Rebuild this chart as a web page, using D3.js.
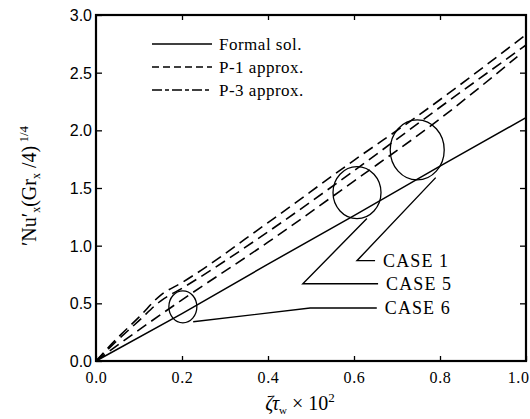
<!DOCTYPE html>
<html>
<head>
<meta charset="utf-8">
<script src="https://cdn.jsdelivr.net/npm/d3@7"></script>
<style>
  html, body { margin: 0; padding: 0; background: #fff; }
  svg { display: block; }
  .serif { font-family: "Liberation Serif", "DejaVu Serif", serif; }
  .sans { font-family: "Liberation Sans", Arial, sans-serif; }
</style>
</head>
<body>
<svg id="chart" width="530" height="419"></svg>
<script>
// Axis ticks
const xTicks = [0.0, 0.2, 0.4, 0.6, 0.8, 1.0];
const yTicks = [0.0, 0.5, 1.0, 1.5, 2.0, 2.5, 3.0];

// Formal solution (solid line)
const formalX = [0.0, 0.2, 0.4, 0.6, 0.8, 1.0];
const formalY = [0.0, 0.41, 0.84, 1.26, 1.69, 2.11];

// Approximate solutions (dashed lines)
const upperX = [0.0, 0.05, 0.1, 0.15, 0.2, 0.4, 0.6, 0.75, 1.0];
const upperY = [0.0, 0.2, 0.38, 0.57, 0.68, 1.2, 1.74, 2.13, 2.83];
const middleX = [0.0, 0.05, 0.1, 0.15, 0.2, 0.4, 0.6, 0.8, 1.0];
const middleY = [0.0, 0.18, 0.35, 0.52, 0.63, 1.12, 1.65, 2.2, 2.74];
const lowerX = [0.0, 0.1, 0.2, 0.4, 0.6, 0.8, 0.98];
const lowerY = [0.0, 0.27, 0.53, 1.03, 1.56, 2.1, 2.64];

// Grouping ellipses (centres in data units)
const ringX = [0.202, 0.607, 0.747];
const ringY = [0.47, 1.46, 1.83];

// Case labels and their leader lines
const caseNames = ["CASE 1", "CASE 5", "CASE 6"];
const leaderX = [[0.79, 0.607, 0.649], [0.63, 0.481, 0.656], [0.226, 0.498, 0.653]];
const leaderY = [[1.59, 0.87, 0.87], [1.235, 0.67, 0.67], [0.34, 0.46, 0.46]];

// Legend entries
const legendNames = ["Formal sol.", "P-1 approx.", "P-3 approx."];
const legendDash = [null, "7,4", "10,3,4,3"];

const svg = d3.select("#chart");
const plotLeft = 96, plotRight = 526, plotTop = 15, plotBottom = 361;

const x = d3.scaleLinear().domain([0, 1]).range([plotLeft, plotRight]);
const y = d3.scaleLinear().domain([0, 3]).range([plotBottom, plotTop]);

// Frame
svg.append("rect")
  .attr("x", plotLeft).attr("y", plotTop)
  .attr("width", plotRight - plotLeft).attr("height", plotBottom - plotTop)
  .attr("fill", "none").attr("stroke", "#000").attr("stroke-width", 2.2);

// Axes with inward ticks
const fmt = d3.format(".1f");
const gx = svg.append("g").attr("transform", `translate(0,${plotBottom})`)
  .call(d3.axisBottom(x).tickValues(xTicks).tickFormat(fmt).tickSizeInner(-5).tickSizeOuter(0).tickPadding(11));
const gy = svg.append("g").attr("transform", `translate(${plotLeft},0)`)
  .call(d3.axisLeft(y).tickValues(yTicks).tickFormat(fmt).tickSizeInner(-6).tickSizeOuter(0).tickPadding(4));
const gt = svg.append("g").attr("transform", `translate(0,${plotTop})`)
  .call(d3.axisTop(x).tickValues(xTicks.slice(1, -1)).tickFormat("").tickSizeInner(-5).tickSizeOuter(0));
const gr = svg.append("g").attr("transform", `translate(${plotRight},0)`)
  .call(d3.axisRight(y).tickValues(yTicks.slice(1, -1)).tickFormat("").tickSizeInner(-6).tickSizeOuter(0));

[gx, gy, gt, gr].forEach(g => {
  g.select(".domain").remove();
  g.selectAll(".tick line").attr("stroke", "#000").attr("stroke-width", 1.3);
});
gx.selectAll(".tick text").attr("class", "serif").attr("font-size", 16).attr("fill", "#000")
  .attr("letter-spacing", 0.6);
// keep the last label inside the page edge
gx.selectAll(".tick text").filter(d => d === 1.0)
  .attr("text-anchor", "end").attr("x", 529 - x(1.0));
gy.selectAll(".tick text").attr("class", "sans").attr("font-size", 16).attr("fill", "#000")
  .attr("dy", "0.35em");

// Curves
const line = d3.line().x(d => x(d[0])).y(d => y(d[1]));
const zip = (a, b) => a.map((v, i) => [v, b[i]]);

svg.append("path").datum(zip(formalX, formalY)).attr("d", line)
  .attr("fill", "none").attr("stroke", "#000").attr("stroke-width", 1.5);

const curved = d3.line().x(d => x(d[0])).y(d => y(d[1])).curve(d3.curveMonotoneX);
[[upperX, upperY], [middleX, middleY], [lowerX, lowerY]].forEach(([xs, ys]) => {
  svg.append("path").datum(zip(xs, ys)).attr("d", curved)
    .attr("fill", "none").attr("stroke", "#000").attr("stroke-width", 1.6)
    .attr("stroke-dasharray", "11,6");
});

// Ellipses
const ringRx = [14, 24, 27], ringRy = [16, 26, 30];
svg.selectAll("ellipse.ring").data(ringX).join("ellipse")
  .attr("class", "ring")
  .attr("cx", d => x(d)).attr("cy", (d, i) => y(ringY[i]))
  .attr("rx", (d, i) => ringRx[i]).attr("ry", (d, i) => ringRy[i])
  .attr("fill", "none").attr("stroke", "#000").attr("stroke-width", 1.3);

// Leaders and case labels
caseNames.forEach((name, i) => {
  svg.append("path").datum(zip(leaderX[i], leaderY[i])).attr("d", line)
    .attr("fill", "none").attr("stroke", "#000").attr("stroke-width", 1.4);
  svg.append("text").attr("class", "serif")
    .attr("x", x(leaderX[i][2]) + 8).attr("y", y(leaderY[i][2]))
    .attr("dy", "0.35em").attr("font-size", 18).attr("letter-spacing", 1.1)
    .text(name);
});

// Legend
const legendRowY = [44, 67, 90];
legendNames.forEach((name, i) => {
  svg.append("line")
    .attr("x1", 152).attr("x2", 212).attr("y1", legendRowY[i]).attr("y2", legendRowY[i])
    .attr("stroke", "#000").attr("stroke-width", 1.5)
    .attr("stroke-dasharray", legendDash[i]);
  svg.append("text").attr("class", "serif")
    .attr("x", 219).attr("y", legendRowY[i]).attr("dy", "0.35em")
    .attr("font-size", 17).attr("letter-spacing", 0.5).text(name);
});

// Axis titles
const yTitle = svg.append("text").attr("class", "serif")
  .attr("transform", "translate(36,186) rotate(-90)")
  .attr("text-anchor", "middle").attr("font-size", 20);
yTitle.append("tspan").text("′Nu′");
yTitle.append("tspan").attr("font-size", 12).attr("dy", 4).text("x");
yTitle.append("tspan").attr("dy", -4).text("(Gr");
yTitle.append("tspan").attr("font-size", 12).attr("dy", 4).text("x");
yTitle.append("tspan").attr("dy", -4).text(" /4)");
yTitle.append("tspan").attr("font-size", 13).attr("dy", -8).text(" 1/4");

const xTitle = svg.append("text").attr("class", "serif")
  .attr("x", 300).attr("y", 410).attr("text-anchor", "middle").attr("font-size", 20);
xTitle.append("tspan").attr("font-style", "italic").text("ζτ");
xTitle.append("tspan").attr("font-size", 11).attr("dy", 4).text("w");
xTitle.append("tspan").attr("dy", -4).text(" × 10");
xTitle.append("tspan").attr("font-size", 13).attr("dy", -8).text("2");
</script>
</body>
</html>
